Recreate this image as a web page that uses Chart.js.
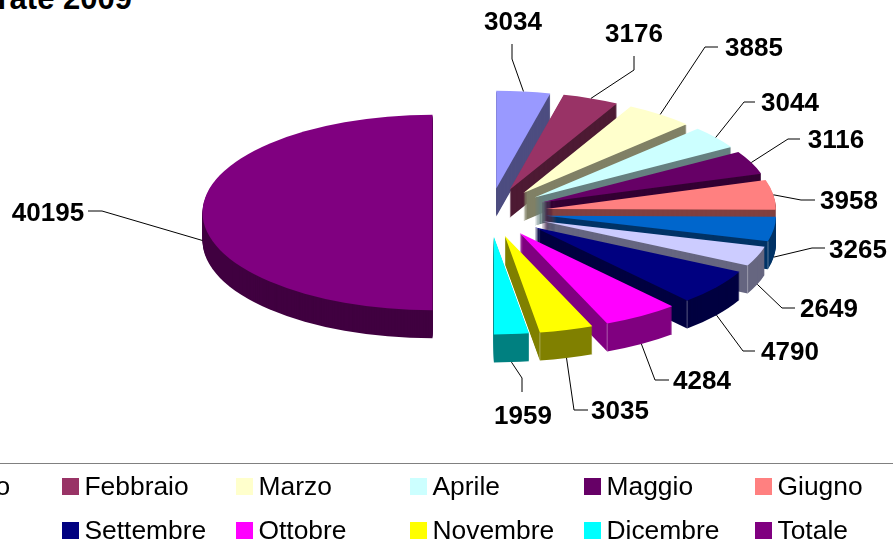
<!DOCTYPE html>
<html lang="it">
<head>
<meta charset="utf-8">
<title>Entrate 2009</title>
<script src="https://cdn.jsdelivr.net/npm/chart.js@4"></script>
<style>
  html, body { margin: 0; padding: 0; background: #fff; }
  body { position: relative; width: 893px; height: 548px; overflow: hidden; font-family: "Liberation Sans", Arial, sans-serif; }
  #js-pie { position: absolute; left: 0; top: 0; }
  .title { position: absolute; right: 761px; top: -17px; font-size: 31px; line-height: 32px; font-weight: bold; color: #000; white-space: nowrap; }
  .legend-line { position: absolute; left: 0; top: 463px; width: 893px; height: 1px; background: #808080; }
  .legend { position: absolute; left: -112px; top: 465px; margin: 0; padding: 0; list-style: none; display: grid; grid-template-columns: 174px 174px 174px 174px 171px 175px 174px; grid-auto-rows: 43.5px; }
  .legend__item { display: flex; align-items: center; font-size: 26.4px; color: #000; white-space: nowrap; }
  .legend__box { width: 17px; height: 17px; margin-right: 5.5px; flex: none; }
</style>
</head>
<body>
<div class="title">Entrate 2009</div>
<canvas id="js-pie" width="893" height="548"></canvas>
<div class="legend-line"></div>
<ul class="legend" id="js-legend"></ul>
<script>
'use strict'

const categories = ['Gennaio', 'Febbraio', 'Marzo', 'Aprile', 'Maggio', 'Giugno', 'Luglio', 'Agosto', 'Settembre', 'Ottobre', 'Novembre', 'Dicembre', 'Totale']
const values = [3034, 3176, 3885, 3044, 3116, 3958, 3265, 2649, 4790, 4284, 3035, 1959, 40195]
const sliceColors = ['#9999FF', '#993366', '#FFFFCC', '#CCFFFF', '#660066', '#FF8080', '#0066CC', '#CCCCFF', '#000080', '#FF00FF', '#FFFF00', '#00FFFF', '#800080']

// label centre and leader elbow, in page pixels
const labelCenters = [[513, 21], [634, 33], [754, 47], [790, 102], [836, 139], [849, 200], [858, 249], [829, 308], [790, 351], [702, 380], [620, 410], [523, 415], [48, 212]]
const leaderElbows = [[512, 59], [634, 70], [705, 47], [744, 102], [788, 139], [801, 200], [812, 248], [782, 308], [743, 351], [655, 380], [574, 410], [522, 378], [102, 211]]
const leaderEnds = [[512, 44], [634, 56], [718, 47], [755, 102], [800, 139], [815, 200], [825, 248], [795, 308], [755, 351], [669, 380], [588, 410], [522, 392], [88, 211]]

const squash = 0.425
const explode = 57
const depth = 28

const darken = (hex) => {
  const n = parseInt(hex.slice(1), 16)
  const half = (v) => Math.round(v / 2)
  return `rgb(${half(n >> 16)},${half((n >> 8) & 255)},${half(n & 255)})`
}

const midAngle = (arc) => (arc.startAngle + arc.endAngle) / 2

// fake 3D: squash the pie, push every slice out, stack darker copies below it
const pie3dPlugin = {
  id: 'pie3d',
  beforeDatasetsDraw(chart) {
    const ctx = chart.ctx
    const data = chart.getDatasetMeta(0).data
    const arcs = [...data].sort((a, b) => Math.sin(midAngle(a)) - Math.sin(midAngle(b)))

    const drawArc = (arc, dy, color) => {
      const mid = midAngle(arc)
      const original = arc.options
      arc.options = {...original, backgroundColor: color, borderWidth: 0}
      ctx.save()
      ctx.translate(0, arc.y + dy)
      ctx.scale(1, squash)
      ctx.translate(Math.cos(mid) * explode, Math.sin(mid) * explode - arc.y)
      arc.draw(ctx)
      ctx.restore()
      arc.options = original
    }

    // the pale vertical edge on the front corner of the lower right slices
    const drawCorner = (arc) => {
      const mid = midAngle(arc)
      const end = arc.endAngle
      if (Math.cos(end) <= 0.05 || Math.sin(end) <= 0) return
      const x = arc.x + Math.cos(mid) * explode + Math.cos(end) * arc.outerRadius
      const y = arc.y + (Math.sin(mid) * explode + Math.sin(end) * arc.outerRadius) * squash
      ctx.beginPath()
      ctx.moveTo(x, y)
      ctx.lineTo(x, y + depth)
      ctx.strokeStyle = 'rgba(255,255,255,.35)'
      ctx.lineWidth = 1
      ctx.stroke()
    }

    arcs.forEach(arc => {
      const color = sliceColors[data.indexOf(arc)]
      const side = darken(color)
      for (let dy = depth; dy > 0; dy--) drawArc(arc, dy, side)
      drawCorner(arc)
      drawArc(arc, 0, color)
    })
    return false
  }
}

const leaderLabelPlugin = {
  id: 'leaderLabels',
  afterDraw(chart) {
    const ctx = chart.ctx
    ctx.save()
    chart.getDatasetMeta(0).data.forEach((arc, i) => {
      const mid = midAngle(arc)
      const reach = arc.outerRadius + explode
      const startX = arc.x + Math.cos(mid) * reach
      const startY = arc.y + Math.sin(mid) * reach * squash + (Math.sin(mid) > -0.01 ? depth : 0)

      ctx.beginPath()
      ctx.moveTo(startX, startY)
      ctx.lineTo(leaderElbows[i][0], leaderElbows[i][1])
      ctx.lineTo(leaderEnds[i][0], leaderEnds[i][1])
      ctx.strokeStyle = '#000'
      ctx.lineWidth = 1
      ctx.stroke()

      ctx.fillStyle = '#000'
      ctx.font = 'bold 26px "Liberation Sans", Arial, sans-serif'
      ctx.textAlign = 'center'
      ctx.textBaseline = 'middle'
      ctx.fillText(String(values[i]), labelCenters[i][0], labelCenters[i][1] + 2)
    })
    ctx.restore()
  }
}

const chart = new Chart(document.getElementById('js-pie'), {
  type: 'pie',
  data: {
    labels: categories,
    datasets: [{
      data: values,
      backgroundColor: sliceColors,
      borderWidth: 0
    }]
  },
  options: {
    responsive: false,
    animation: false,
    events: [],
    radius: 230,
    layout: { padding: { left: 86, bottom: 123 } },
    plugins: {
      legend: { display: false },
      tooltip: { enabled: false }
    }
  },
  plugins: [pie3dPlugin, leaderLabelPlugin]
})

const legendList = document.getElementById('js-legend')
categories.forEach((name, i) => {
  const li = document.createElement('li')
  li.classList.add('legend__item')
  const box = document.createElement('span')
  box.classList.add('legend__box')
  box.style.background = sliceColors[i]
  li.appendChild(box)
  li.appendChild(document.createTextNode(name))
  legendList.appendChild(li)
})
</script>
</body>
</html>
